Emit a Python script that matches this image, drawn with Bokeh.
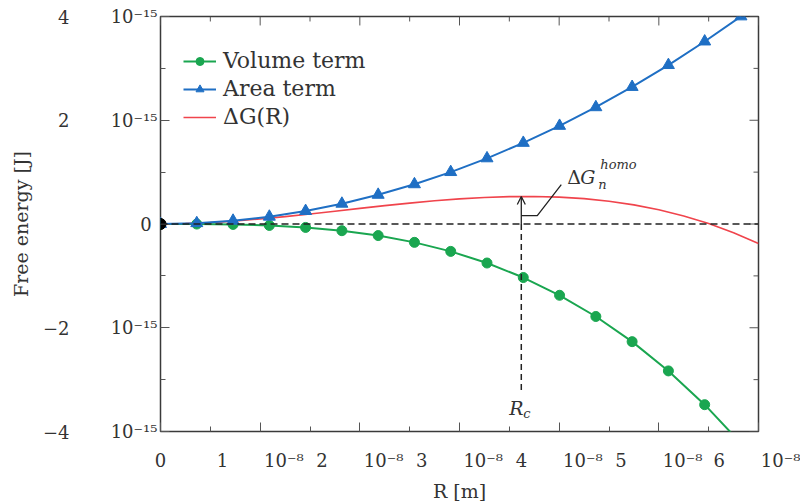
from bokeh.plotting import figure
from bokeh.models import (Label, Legend, LegendItem, Span, Arrow, OpenHead,
                          FixedTicker, LinearAxis, Range1d)
from bokeh.embed import file_html
from bokeh.resources import INLINE

# ---------------- data (R in 1e-8 m, energies in 1e-15 J) ----------------
r_marks = [0.0, 0.364, 0.728, 1.092, 1.456, 1.820, 2.184, 2.548, 2.912,
           3.276, 3.640, 4.004, 4.368, 4.732, 5.096, 5.460, 5.824]
volume_term = [0.0, -0.001, -0.008, -0.028, -0.066, -0.129, -0.223, -0.354,
               -0.528, -0.752, -1.032, -1.374, -1.783, -2.268, -2.832,
               -3.483, -4.227]
area_term = [0.0, 0.016, 0.063, 0.141, 0.250, 0.391, 0.563, 0.766, 1.001,
             1.266, 1.564, 1.892, 2.251, 2.642, 3.064, 3.518, 4.002]
r_curve = [0.0, 0.25, 0.5, 0.75, 1.0, 1.25, 1.5, 1.75, 2.0, 2.25, 2.5, 2.75,
           3.0, 3.25, 3.5, 3.75, 4.0, 4.25, 4.5, 4.75, 5.0, 5.25, 5.5, 5.75, 6.0]
delta_g = [0.0, 0.007, 0.027, 0.057, 0.097, 0.143, 0.193, 0.247, 0.301,
           0.354, 0.403, 0.447, 0.484, 0.512, 0.528, 0.531, 0.518, 0.489,
           0.439, 0.369, 0.275, 0.156, 0.009, -0.167, -0.374]
r_critical = 3.62
dg_critical = 0.53
rc_line_bottom = -3.23

x_tick_values = [0, 1, 2, 3, 4, 5, 6]
x_minor_values = [0.5, 1.5, 2.5, 3.5, 4.5, 5.5]
y_tick_values = [4, 2, 0, -2, -4]
y_minor_values = [3, 1, -1, -3]
x_tick_labels = ["0", "1\u2003\u200310\u207b\u2078", "2\u2003\u200310\u207b\u2078",
                 "3\u2003\u200310\u207b\u2078", "4\u2003\u200310\u207b\u2078",
                 "5\u2003\u200310\u207b\u2078", "6\u2003\u200310\u207b\u2078"]
y_tick_exp_labels = ["10\u207b\u00b9\u2075", "10\u207b\u00b9\u2075", "0\u00a0",
                     "10\u207b\u00b9\u2075", "10\u207b\u00b9\u2075"]
y_number_ticks = [4, 2, -2, -4]
y_number_labels = ["4", "2", "\u22122", "\u22124"]

GREEN = "#1aa650"
BLUE = "#1f6fc4"
RED = "#f0444c"
TXT = "#333333"
TICK = "#555555"
FONT = "DejaVu Serif"

X_MIN, X_MAX = 0, 6
Y_MIN, Y_MAX = -4, 4
SX = 598 / (X_MAX - X_MIN)   # px per x unit
SY = 417 / (Y_MAX - Y_MIN)   # px per y unit

p = figure(width=800, height=504, output_backend="svg", toolbar_location=None,
           x_range=Range1d(X_MIN, X_MAX), y_range=Range1d(Y_MIN, Y_MAX),
           x_axis_location=None, y_axis_location=None,
           min_border_left=160, min_border_right=42,
           min_border_top=16, min_border_bottom=71)
p.grid.visible = False
p.outline_line_color = "#3a3a3a"
p.outline_line_width = 1.5


def style_ticks(ax):
    ax.axis_line_color = None
    ax.major_tick_in = 9
    ax.major_tick_out = 0
    ax.minor_tick_in = 5
    ax.minor_tick_out = 0
    ax.major_tick_line_color = TICK
    ax.minor_tick_line_color = TICK
    ax.major_label_text_font = FONT
    ax.major_label_text_font_size = "18px"
    ax.major_label_text_color = TXT


# bottom axis: ticks, labels and title
xb = LinearAxis(ticker=FixedTicker(ticks=x_tick_values, minor_ticks=x_minor_values))
style_ticks(xb)
xb.major_label_overrides = dict(zip(x_tick_values, x_tick_labels))
xb.major_label_standoff = 18
xb.axis_label = "R [m]"
xb.axis_label_text_font = FONT
xb.axis_label_text_font_size = "19px"
xb.axis_label_text_font_style = "normal"
xb.axis_label_text_color = TXT
xb.axis_label_standoff = 6
p.add_layout(xb, "below")

# left axis (inner): ticks and exponent part of labels
yl = LinearAxis(ticker=FixedTicker(ticks=y_tick_values, minor_ticks=y_minor_values))
style_ticks(yl)
yl.major_label_overrides = dict(zip(y_tick_values, y_tick_exp_labels))
yl.major_label_standoff = 3
p.add_layout(yl, "left")

# left axis (outer): mantissa part of labels and the title
yl2 = LinearAxis(ticker=FixedTicker(ticks=y_number_ticks))
yl2.axis_line_color = None
yl2.major_tick_line_color = None
yl2.minor_tick_line_color = None
yl2.major_tick_in = 0
yl2.major_tick_out = 0
yl2.major_label_overrides = dict(zip(y_number_ticks, y_number_labels))
yl2.major_label_text_font = FONT
yl2.major_label_text_font_size = "18px"
yl2.major_label_text_color = TXT
yl2.major_label_standoff = 38
yl2.axis_label = "Free energy [J]"
yl2.axis_label_text_font = FONT
yl2.axis_label_text_font_size = "19px"
yl2.axis_label_text_font_style = "normal"
yl2.axis_label_text_color = TXT
yl2.axis_label_standoff = 8
p.add_layout(yl2, "left")

# inward ticks on top and right edges of the box
p.segment(x0=x_tick_values, y0=[Y_MAX] * len(x_tick_values),
          x1=x_tick_values, y1=[Y_MAX - 9 / SY] * len(x_tick_values),
          line_color=TICK, line_width=1)
p.segment(x0=x_minor_values, y0=[Y_MAX] * len(x_minor_values),
          x1=x_minor_values, y1=[Y_MAX - 5 / SY] * len(x_minor_values),
          line_color=TICK, line_width=1)
p.segment(x0=[X_MAX] * len(y_tick_values), y0=y_tick_values,
          x1=[X_MAX - 9 / SX] * len(y_tick_values), y1=y_tick_values,
          line_color=TICK, line_width=1)
p.segment(x0=[X_MAX] * len(y_minor_values), y0=y_minor_values,
          x1=[X_MAX - 5 / SX] * len(y_minor_values), y1=y_minor_values,
          line_color=TICK, line_width=1)

# zero reference line
p.add_layout(Span(location=0, dimension="width", line_color="#222222",
                  line_width=1.5, line_dash="7 4"))

red = p.line(r_curve, delta_g, line_color=RED, line_width=1.6)
gl = p.line(r_marks, volume_term, line_color=GREEN, line_width=2)
gs = p.scatter(r_marks, volume_term, marker="circle", size=10,
               fill_color=GREEN, line_color=GREEN)
bl = p.line(r_marks, area_term, line_color=BLUE, line_width=2)
bs = p.scatter(r_marks, area_term, marker="triangle", size=12,
               fill_color=BLUE, line_color=BLUE)
p.scatter([r_marks[0]], [volume_term[0]], marker="circle", size=11,
          fill_color="black", line_color="black")

# critical radius annotation
p.segment(x0=[r_critical], y0=[0], x1=[r_critical], y1=[rc_line_bottom],
          line_color="#222222", line_width=1.5, line_dash="6 4")
p.add_layout(Arrow(x_start=r_critical, y_start=0, x_end=r_critical,
                   y_end=dg_critical, line_color="#222222", line_width=1.3,
                   end=OpenHead(size=8, line_color="#222222", line_width=1.3)))
p.line([r_critical, r_critical + 16 / SX, r_critical + 40 / SX],
       [8.5 / SY, 8.5 / SY, 39.5 / SY], line_color="#222222", line_width=1.3)

legend = Legend(items=[LegendItem(label="Volume term", renderers=[gl, gs]),
                       LegendItem(label="Area term", renderers=[bl, bs]),
                       LegendItem(label="\u0394G(R)", renderers=[red])],
                location=(23, 302), background_fill_alpha=0,
                border_line_color=None, label_text_font=FONT,
                label_text_font_size="22px", label_text_color=TXT,
                glyph_width=33, glyph_height=20, label_height=20,
                spacing=3, padding=10, margin=0, label_standoff=7)
p.add_layout(legend)


def lab(text, x, y, size="19px", style="normal"):
    p.add_layout(Label(x=x, y=y, text=text, text_font=FONT,
                       text_font_size=size, text_align="left",
                       text_baseline="middle", text_font_style=style,
                       text_color=TXT))


# annotation texts (inside the box)
lab("\u0394", r_critical + 46 / SX, 47.5 / SY)
lab("G", r_critical + 59 / SX, 47.5 / SY, style="italic")
lab("n", r_critical + 77 / SX, 40 / SY, size="13px", style="italic")
lab("homo", r_critical + 79 / SX, 60 / SY, size="13px", style="italic")
lab("R", r_critical - 12 / SX, -185 / SY, style="italic")
lab("c", r_critical + 2 / SX, -190 / SY, size="13px", style="italic")

open("out.html", "w").write(file_html(p, INLINE))
